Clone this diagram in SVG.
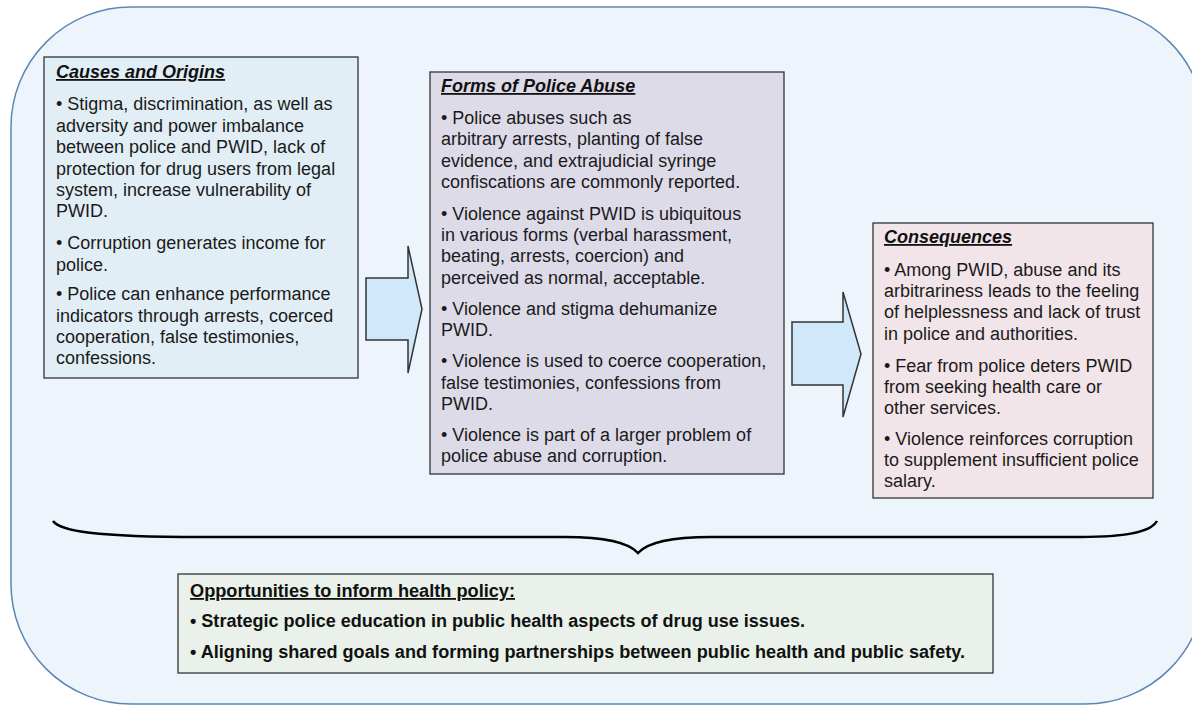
<svg xmlns="http://www.w3.org/2000/svg" width="1192" height="705" viewBox="0 0 1192 705">
<style>
.body{font-family:"Liberation Sans",Arial,sans-serif;font-size:18px;fill:#1a1a1a;}
.title{font-family:"Liberation Sans",Arial,sans-serif;font-size:18px;font-weight:bold;font-style:italic;text-decoration:underline;fill:#111;}
.bot{font-family:"Liberation Sans Narrow","Liberation Sans",Arial,sans-serif;font-size:18px;font-weight:bold;fill:#111;}
.box{stroke:#333;stroke-width:1.3;}
.arrow{fill:#cfe9fb;stroke:#333;stroke-width:1.5;stroke-linejoin:miter;}
</style>
<rect x="11" y="7" width="1194" height="697" rx="120" ry="120" fill="#eef4fb" stroke="#5b87b5" stroke-width="1.5"/>

<g id="causes">
<rect class="box" x="44" y="57" width="314" height="321" fill="#e2eef5"/>
<text class="title" x="56" y="78">Causes and Origins</text>
<text class="body">
<tspan x="56" y="110">• Stigma, discrimination, as well as</tspan>
<tspan x="56" y="131.5">adversity and power imbalance</tspan>
<tspan x="56" y="153">between police and PWID, lack of</tspan>
<tspan x="56" y="174.5">protection for drug users from legal</tspan>
<tspan x="56" y="196">system,  increase vulnerability  of</tspan>
<tspan x="56" y="217">PWID.</tspan>
<tspan x="56" y="249">• Corruption generates income for</tspan>
<tspan x="56" y="270.5">police.</tspan>
<tspan x="56" y="300">• Police can enhance performance</tspan>
<tspan x="56" y="321.5">indicators through arrests, coerced</tspan>
<tspan x="56" y="343">cooperation, false testimonies,</tspan>
<tspan x="56" y="364">confessions.</tspan>
</text>
</g>

<g id="forms">
<rect class="box" x="430" y="72" width="354" height="402" fill="#dedbe9"/>
<text class="title" x="441" y="92">Forms of Police Abuse</text>
<text class="body">
<tspan x="441" y="124">• Police abuses such as</tspan>
<tspan x="441" y="145">arbitrary arrests, planting of false</tspan>
<tspan x="441" y="167">evidence, and extrajudicial syringe</tspan>
<tspan x="441" y="188">confiscations are commonly reported.</tspan>
<tspan x="441" y="220">• Violence against PWID is ubiquitous</tspan>
<tspan x="441" y="241">in various forms (verbal harassment,</tspan>
<tspan x="441" y="262">beating, arrests, coercion) and</tspan>
<tspan x="441" y="284">perceived as normal, acceptable.</tspan>
<tspan x="441" y="315">• Violence and stigma dehumanize</tspan>
<tspan x="441" y="336">PWID.</tspan>
<tspan x="441" y="367">• Violence is used to coerce cooperation,</tspan>
<tspan x="441" y="389">false testimonies, confessions from</tspan>
<tspan x="441" y="410">PWID.</tspan>
<tspan x="441" y="441">• Violence is part of a larger problem of</tspan>
<tspan x="441" y="462">police abuse and corruption.</tspan>
</text>
</g>

<g id="consequences">
<rect class="box" x="873" y="223" width="280" height="275" fill="#f2e5e9"/>
<text class="title" x="884" y="243">Consequences</text>
<text class="body">
<tspan x="884" y="276">• Among PWID, abuse and its</tspan>
<tspan x="884" y="297">arbitrariness leads to the feeling</tspan>
<tspan x="884" y="318">of helplessness and lack of trust</tspan>
<tspan x="884" y="340">in police and authorities.</tspan>
<tspan x="884" y="372">• Fear from police deters PWID</tspan>
<tspan x="884" y="393">from seeking health care or</tspan>
<tspan x="884" y="414">other services.</tspan>
<tspan x="884" y="445">• Violence reinforces corruption</tspan>
<tspan x="884" y="466">to supplement insufficient police</tspan>
<tspan x="884" y="487">salary.</tspan>
</text>
</g>

<g id="opportunities">
<rect class="box" x="178" y="574" width="815" height="99" fill="#e9f1ea"/>
<text class="bot" x="190" y="597" textLength="325" lengthAdjust="spacingAndGlyphs" text-decoration="underline">Opportunities to inform health policy:</text>
<text class="bot" x="190" y="627" textLength="615" lengthAdjust="spacingAndGlyphs">• Strategic police education in public health aspects of drug use issues.</text>
<text class="bot" x="190" y="658" textLength="775" lengthAdjust="spacingAndGlyphs">• Aligning shared goals and forming partnerships between public health and public safety.</text>
</g>

<g id="connectors">
<polygon class="arrow" points="366,278 408,278 408,246 422,309 408,373 408,340 366,340"/>
<polygon class="arrow" points="792,322 843,322 843,292 861,354 843,417 843,385 792,385"/>
<path d="M53,521 C60,531 95,537 200,537 L565,537 C612,537 630,544 638,553 C646,544 664,537 711,537 L1080,537 C1135,537 1152,530 1157,521" fill="none" stroke="#000" stroke-width="2.5"/>
</g>
</svg>
